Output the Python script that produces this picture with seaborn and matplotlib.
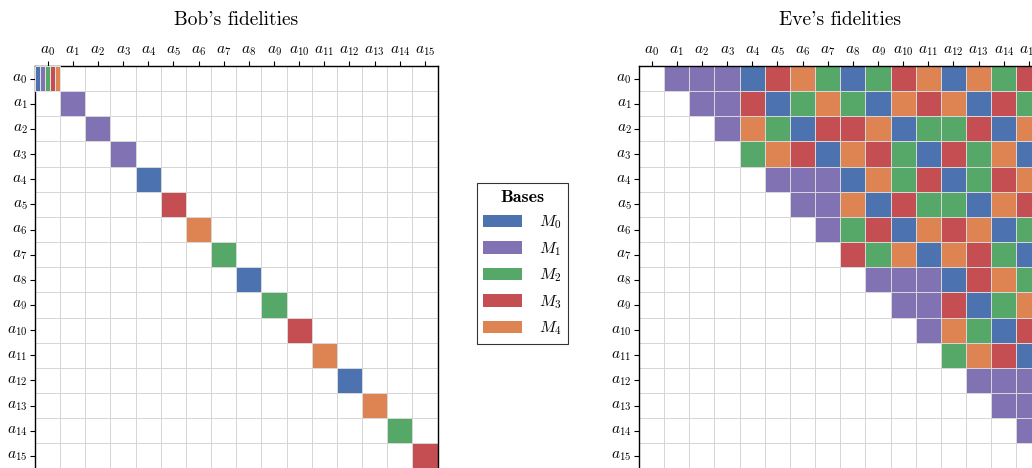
import numpy as np
import pandas as pd
import seaborn as sns
import matplotlib
matplotlib.use("Agg")
import matplotlib.pyplot as plt
from matplotlib.colors import ListedColormap
from matplotlib.patches import Patch

plt.rcParams["mathtext.fontset"] = "cm"
plt.rcParams["axes.formatter.use_mathtext"] = True

# Measurement bases and their colours
bases = ["$M_0$", "$M_1$", "$M_2$", "$M_3$", "$M_4$"]
deep = sns.color_palette("deep")
base_colors = [deep[0], deep[4], deep[2], deep[3], deep[1]]

states = [f"$a_{{{i}}}$" for i in range(16)]

# Bob: the basis giving fidelity 1 for each state (a0 is fine in every basis)
bob_diag = "*111034202340423"
bob_a0_bases = [0, 1, 2, 3, 4]

# Eve: basis for each pair (row, column); '.' means no entry
eve_rows = [
    ".111034202340423",
    "..11302420434032",
    "...1420334022304",
    "....243043203240",
    ".....11104230234",
    "......1140322043",
    ".......123043402",
    "........32404320",
    ".........1110342",
    "..........113024",
    "...........14203",
    "............2430",
    ".............111",
    "..............11",
    "...............1",
    "................",
]


def code(ch):
    return int(ch) + 1 if ch.isdigit() else 0


n = len(states)
bob = np.zeros((n, n), dtype=int)
for i, ch in enumerate(bob_diag):
    bob[i, i] = code(ch)
eve = np.array([[code(ch) for ch in row] for row in eve_rows])

cmap = ListedColormap(["white"] + [tuple(c) for c in base_colors])

W, H = 1032, 468
fig = plt.figure(figsize=(W / 100, H / 100), dpi=100)
side = 402.5
ax_bob = fig.add_axes([35 / W, (H - 66 - side) / H, side / W, side / H])
ax_eve = fig.add_axes([639 / W, (H - 66 - side) / H, side / W, side / H])

for ax, mat in [(ax_bob, bob), (ax_eve, eve)]:
    sns.heatmap(pd.DataFrame(mat, index=states, columns=states), ax=ax,
                cmap=cmap, vmin=-0.5, vmax=5.5, cbar=False,
                linewidths=0.7, linecolor="#d6d6d6", square=False)
    for s in ax.spines.values():
        s.set_visible(True)
        s.set_color("black")
        s.set_linewidth(1.0)
    ax.xaxis.tick_top()
    ax.tick_params(top=True, labeltop=True, bottom=False, labelbottom=False,
                   left=True, length=3.5, width=0.8, direction="out",
                   labelsize=11, pad=2)
    ax.set_xticklabels(states, rotation=0)
    ax.set_yticklabels(states, rotation=0)
    ax.set_xlabel("")
    ax.set_ylabel("")

# a0 on Bob's side: one stripe per basis
stripe_w = 1 / len(bob_a0_bases)
ax_bob.bar([stripe_w * (k + 0.5) for k in range(len(bob_a0_bases))],
           [1] * len(bob_a0_bases), bottom=0, width=stripe_w,
           color=[base_colors[b] for b in bob_a0_bases],
           edgecolor="#e4e4e4", linewidth=0.7, zorder=3)

fig.text(236 / W, 1 - 20 / H, "Bob's fidelities", family="cmr10",
         fontsize=14, ha="center", va="center")
fig.text(840 / W, 1 - 20 / H, "Eve's fidelities", family="cmr10",
         fontsize=14, ha="center", va="center")

handles = [Patch(facecolor=c, edgecolor="none") for c in base_colors]
leg = fig.legend(handles, bases, loc="center",
                 bbox_to_anchor=(522.5 / W, 1 - 263.5 / H),
                 title="Bases", fontsize=11.5, frameon=True, fancybox=False,
                 edgecolor="black", handlelength=2.4, handleheight=0.8,
                 handletextpad=1.1, labelspacing=0.55, borderpad=0.4,
                 borderaxespad=0)
leg.get_title().set_fontfamily("cmb10")
leg.get_title().set_fontsize(13)
leg.get_frame().set_linewidth(0.8)

fig.savefig("out.png", dpi=100)
